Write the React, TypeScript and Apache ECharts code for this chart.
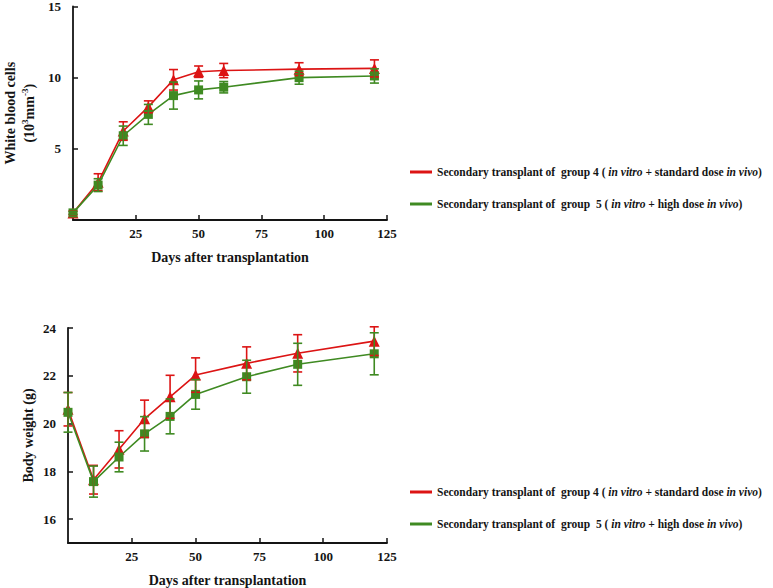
import React, { useEffect, useRef } from "react";
import * as echarts from "echarts";

// ---- data ----
const G4 = "Secondary transplant of group 4 (in vitro + standard dose in vivo)";
const G5 = "Secondary transplant of group 5 (in vitro + high dose in vivo)";

const wbcDays = [0, 10, 20, 30, 40, 50, 60, 90, 120];
const wbcG4 = [0.5, 2.65, 6.25, 7.95, 9.85, 10.42, 10.5, 10.6, 10.65];
const wbcG4Err = [0.12, 0.6, 0.65, 0.42, 0.72, 0.4, 0.5, 0.45, 0.6];
const wbcG5 = [0.5, 2.45, 5.92, 7.42, 8.74, 9.14, 9.33, 10.0, 10.12];
const wbcG5Err = [0.1, 0.45, 0.68, 0.7, 0.95, 0.63, 0.4, 0.46, 0.5];

const bwDays = [0, 10, 20, 30, 40, 50, 70, 90, 120];
const bwG4 = [20.6, 17.65, 18.92, 20.2, 21.12, 22.03, 22.52, 22.94, 23.45];
const bwG4Err = [0.7, 0.6, 0.78, 0.78, 0.9, 0.72, 0.69, 0.78, 0.6];
const bwG5 = [20.47, 17.57, 18.6, 19.57, 20.3, 21.22, 21.96, 22.48, 22.92];
const bwG5Err = [0.83, 0.65, 0.62, 0.72, 0.73, 0.62, 0.69, 0.88, 0.88];

const xTicks = [25, 50, 75, 100, 125];
const wbcTicks = [5, 10, 15];
const bwTicks = [16, 18, 20, 22, 24];

const RED = "#DC1414";
const GREEN = "#3F8A22";
const FONT = "Liberation Serif";
const INK = "#141414";

const pairs = (xs: number[], ys: number[]) => xs.map((x, i) => [x, ys[i]]);
const triples = (xs: number[], ys: number[], es: number[]) => xs.map((x, i) => [x, ys[i], es[i]]);

function errRender(color: string) {
  return (params: any, api: any) => {
    const x = api.value(0);
    const y = api.value(1);
    const e = api.value(2);
    const hi = api.coord([x, y + e]);
    const lo = api.coord([x, y - e]);
    const cap = 4.5;
    const style = { stroke: color, lineWidth: 1.6 };
    return {
      type: "group",
      children: [
        { type: "line", shape: { x1: hi[0], y1: hi[1], x2: lo[0], y2: lo[1] }, style },
        { type: "line", shape: { x1: hi[0] - cap, y1: hi[1], x2: hi[0] + cap, y2: hi[1] }, style },
        { type: "line", shape: { x1: lo[0] - cap, y1: lo[1], x2: lo[0] + cap, y2: lo[1] }, style },
      ],
    };
  };
}

const legendFmt = (name: string) =>
  name === G4
    ? "{b|Secondary transplant of  group 4 ( }{i|in vitro}{b| + standard dose }{i|in vivo}{b|)}"
    : "{b|Secondary transplant of  group  5 ( }{i|in vitro}{b| + high dose }{i|in vivo}{b|)}";

const legendRich = {
  b: { fontFamily: FONT, fontWeight: "bold", fontSize: 11.5, color: INK },
  i: { fontFamily: FONT, fontWeight: "bold", fontStyle: "italic", fontSize: 11.5, color: INK },
};

const axisLabelStyle = { fontFamily: FONT, fontWeight: "bold", fontSize: 13, color: INK };

function xAxisDef(gridIndex: number) {
  return {
    type: "value",
    gridIndex,
    min: 0,
    max: 125,
    interval: 25,
    name: "Days after transplantation",
    nameLocation: "middle",
    nameGap: 30,
    nameTextStyle: { fontFamily: FONT, fontWeight: "bold", fontSize: 14, color: INK },
    axisLine: { show: true, onZero: false, lineStyle: { color: INK, width: 1.8 } },
    axisTick: { show: true, inside: true, length: 5, lineStyle: { color: INK, width: 1.5 }, customValues: xTicks },
    axisLabel: { ...axisLabelStyle, margin: 7, customValues: xTicks },
    splitLine: { show: false },
  };
}

function legendDef(top: number) {
  return {
    orient: "vertical",
    left: 405,
    top,
    itemGap: 20,
    itemWidth: 22,
    itemHeight: 3,
    data: [
      { name: G4, icon: "rect" },
      { name: G5, icon: "rect" },
    ],
    formatter: legendFmt,
    textStyle: { rich: legendRich },
  };
}

export default function App() {
  const ref = useRef<HTMLDivElement>(null);
  useEffect(() => {
    if (!ref.current) return;
    const chart = echarts.init(ref.current, null, { renderer: "svg" });
    const lineSeries = (name: string, data: number[][], color: string, sym: string, size: number, idx: number) => ({
      type: "line",
      name,
      xAxisIndex: idx,
      yAxisIndex: idx,
      data,
      symbol: sym,
      symbolSize: size,
      lineStyle: { color, width: 1.6 },
      itemStyle: { color },
      z: 2,
    });
    const errSeries = (name: string, data: number[][], color: string, idx: number) => ({
      type: "custom",
      name,
      xAxisIndex: idx,
      yAxisIndex: idx,
      data,
      renderItem: errRender(color),
      z: 3,
      clip: false,
    });
    chart.setOption({
      animation: false,
      backgroundColor: "#ffffff",
      grid: [
        { left: 68, top: 6, width: 319, height: 214 },
        { left: 68, top: 328, width: 319, height: 215 },
      ],
      legend: [legendDef(161), legendDef(481)],
      xAxis: [xAxisDef(0), xAxisDef(1)],
      yAxis: [
        {
          type: "value",
          gridIndex: 0,
          min: 0,
          max: 15,
          interval: 5,
          name: "{a|White blood cells}\n{a|(10}{s|3}{a|mm}{s|-3}{a|)}",
          nameLocation: "middle",
          nameRotate: 90,
          nameGap: 34,
          nameTextStyle: {
            lineHeight: 19,
            rich: {
              a: { fontFamily: FONT, fontWeight: "bold", fontSize: 14, color: INK, lineHeight: 19 },
              s: { fontFamily: FONT, fontWeight: "bold", fontSize: 9, color: INK, verticalAlign: "top", lineHeight: 19 },
            },
          },
          axisLine: { show: true, lineStyle: { color: INK, width: 1.8 } },
          axisTick: { show: true, inside: true, length: 5, lineStyle: { color: INK, width: 1.5 }, customValues: wbcTicks },
          axisLabel: { ...axisLabelStyle, margin: 12, customValues: wbcTicks },
          splitLine: { show: false },
        },
        {
          type: "value",
          gridIndex: 1,
          min: 15,
          max: 24,
          name: "Body weight (g)",
          nameLocation: "middle",
          nameRotate: 90,
          nameGap: 33,
          nameTextStyle: { fontFamily: FONT, fontWeight: "bold", fontSize: 14, color: INK },
          axisLine: { show: true, lineStyle: { color: INK, width: 1.8 } },
          axisTick: { show: true, inside: true, length: 5, lineStyle: { color: INK, width: 1.5 }, customValues: bwTicks },
          axisLabel: { ...axisLabelStyle, margin: 12, customValues: bwTicks },
          splitLine: { show: false },
        },
      ],
      series: [
        lineSeries(G4, pairs(wbcDays, wbcG4), RED, "triangle", 11, 0),
        lineSeries(G5, pairs(wbcDays, wbcG5), GREEN, "rect", 9, 0),
        errSeries(G4, triples(wbcDays, wbcG4, wbcG4Err), RED, 0),
        errSeries(G5, triples(wbcDays, wbcG5, wbcG5Err), GREEN, 0),
        lineSeries(G4, pairs(bwDays, bwG4), RED, "triangle", 11, 1),
        lineSeries(G5, pairs(bwDays, bwG5), GREEN, "rect", 9, 1),
        errSeries(G4, triples(bwDays, bwG4, bwG4Err), RED, 1),
        errSeries(G5, triples(bwDays, bwG5, bwG5Err), GREEN, 1),
      ],
    });
    return () => chart.dispose();
  }, []);
  return (
    <div
      ref={ref}
      style={{ position: "fixed", left: 0, top: 0, width: 773, height: 588, background: "#fff" }}
    />
  );
}
